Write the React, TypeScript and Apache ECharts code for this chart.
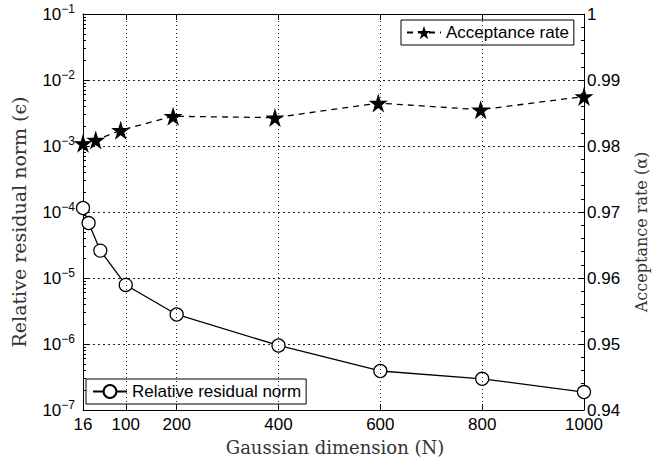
import React, { useEffect, useRef } from "react";
import * as echarts from "echarts";

const normX = [16, 27, 50, 100, 200, 400, 600, 800, 1000];
const normY = [1.15e-4, 6.8e-5, 2.6e-5, 7.85e-6, 2.8e-6, 9.5e-7, 3.9e-7, 2.97e-7, 1.87e-7];
const rateX = [16, 41, 90, 193, 393, 596, 797, 1000];
const rateY = [0.9804, 0.9809, 0.9824, 0.9845, 0.9843, 0.9865, 0.9855, 0.9875];
const xTicks = [16, 100, 200, 400, 600, 800, 1000];
const xGrid = [100, 200, 400, 600, 800];
const logMinor: number[] = [];
for (let e = -7; e < -1; e++) for (let m = 2; m <= 9; m++) logMinor.push(m * Math.pow(10, e));

const starPath = (() => {
  const pts: string[] = [];
  for (let i = 0; i < 10; i++) {
    const r = i % 2 === 0 ? 1 : 0.38;
    const a = (-90 + i * 36) * Math.PI / 180;
    pts.push(`${(r * Math.cos(a)).toFixed(4)} ${(r * Math.sin(a)).toFixed(4)}`);
  }
  return "path://M" + pts.join(" L") + " Z";
})();

const SANS = "'Liberation Sans', Arial, sans-serif";
const SERIF = "'DejaVu Serif', 'Liberation Serif', serif";

export default function App() {
  const ref = useRef<HTMLDivElement>(null);
  useEffect(() => {
    const chart = echarts.init(ref.current!, null, { renderer: "svg" });
    const axisLine = { show: true, lineStyle: { color: "#000", width: 1 } };
    chart.setOption({
      animation: false,
      backgroundColor: "#fff",
      grid: { left: 83, right: 84, top: 14, bottom: 52 },
      xAxis: [
        {
          type: "value", min: 16, max: 1000, position: "bottom",
          axisLine, splitLine: { show: false },
          axisTick: { show: true, inside: true, length: 6, customValues: xTicks, lineStyle: { color: "#000" } },
          axisLabel: {
            customValues: xTicks, color: "#000", fontSize: 17, fontFamily: SANS, margin: 6,
            formatter: (v: number) => String(Math.round(v)),
          },
        },
        {
          type: "value", min: 16, max: 1000, position: "top",
          axisLine, splitLine: { show: false },
          axisTick: { show: true, inside: true, length: 6, customValues: xTicks, lineStyle: { color: "#000" } },
          axisLabel: { show: false },
        },
      ],
      yAxis: [
        {
          type: "log", logBase: 10, min: 1e-7, max: 1e-1, position: "left",
          axisLine,
          axisTick: { show: true, inside: true, length: 6, lineStyle: { color: "#000" } },
          splitLine: { show: true, lineStyle: { color: "#222", type: [2, 3], width: 1 } },
          axisLabel: {
            margin: 8,
            formatter: (v: number) => {
              const e = Math.round(Math.log10(v));
              return `{b|10}{s|${e < 0 ? "\u2212" : ""}${Math.abs(e)}}`;
            },
            rich: {
              b: { fontSize: 17, fontFamily: SANS, color: "#000" },
              s: { fontSize: 12, fontFamily: SANS, color: "#000", padding: [0, 0, 10, 0] },
            },
          },
        },
        {
          type: "value", min: 0.94, max: 1, interval: 0.01, position: "right",
          axisLine,
          axisTick: { show: true, inside: true, length: 6, lineStyle: { color: "#000" } },
          minorTick: { show: true, splitNumber: 5, length: 3, lineStyle: { color: "#000" } },
          splitLine: { show: false },
          axisLabel: {
            color: "#000", fontSize: 17, fontFamily: SANS, margin: 3,
            formatter: (v: number) => (Math.abs(v - 1) < 1e-9 ? "1" : v.toFixed(2)),
          },
        },
        {
          type: "log", logBase: 10, min: 1e-7, max: 1e-1, position: "left",
          axisLine: { show: false }, splitLine: { show: false },
          axisTick: { show: true, inside: true, length: 3, customValues: logMinor, lineStyle: { color: "#000" } },
          axisLabel: { show: false },
        },
      ],
      legend: [
        {
          data: ["Acceptance rate"], left: 401, top: 20,
          backgroundColor: "#fff", borderColor: "#000", borderWidth: 1,
          padding: [4, 5, 4, 5], itemWidth: 34, itemHeight: 17,
          textStyle: { fontSize: 17, fontFamily: SANS, color: "#000" },
        },
        {
          data: ["Relative residual norm"], left: 86, top: 379,
          backgroundColor: "#fff", borderColor: "#000", borderWidth: 1,
          padding: [4, 5, 4, 6], itemWidth: 34, itemHeight: 16,
          textStyle: { fontSize: 17, fontFamily: SANS, color: "#000" },
        },
      ],
      series: [
        {
          name: "Relative residual norm", type: "line", xAxisIndex: 0, yAxisIndex: 0,
          data: normX.map((x, i) => [x, normY[i]]),
          symbol: "circle", symbolSize: 13,
          lineStyle: { color: "#000", width: 1.3 },
          itemStyle: { color: "#fff", borderColor: "#000", borderWidth: 1.3 },
          markLine: {
            silent: true, symbol: "none", label: { show: false },
            lineStyle: { color: "#222", type: [1, 3], width: 1 },
            data: xGrid.map((v) => ({ xAxis: v })),
          },
          z: 3,
        },
        {
          name: "Acceptance rate", type: "line", xAxisIndex: 0, yAxisIndex: 1,
          data: rateX.map((x, i) => [x, rateY[i]]),
          symbol: starPath, symbolSize: 19,
          lineStyle: { color: "#000", width: 1.3, type: [6, 5] },
          itemStyle: { color: "#000" },
          z: 3,
        },
      ],
      graphic: [
        {
          type: "text", x: 19, y: 222, rotation: Math.PI / 2,
          style: { text: "Relative residual norm (\u03f5)", font: `19px ${SERIF}`, fill: "#333", align: "center", verticalAlign: "middle" },
        },
        {
          type: "text", x: 641, y: 232, rotation: Math.PI / 2,
          style: { text: "Acceptance rate (\u03b1)", font: `16px ${SERIF}`, fill: "#333", align: "center", verticalAlign: "middle" },
        },
        {
          type: "text", x: 335, y: 447,
          style: { text: "Gaussian dimension (N)", font: `18px ${SERIF}`, fill: "#333", align: "center", verticalAlign: "middle" },
        },
      ],
    });
    return () => chart.dispose();
  }, []);
  return <div ref={ref} style={{ width: 668, height: 462, position: "absolute", left: 0, top: 0 }} />;
}
